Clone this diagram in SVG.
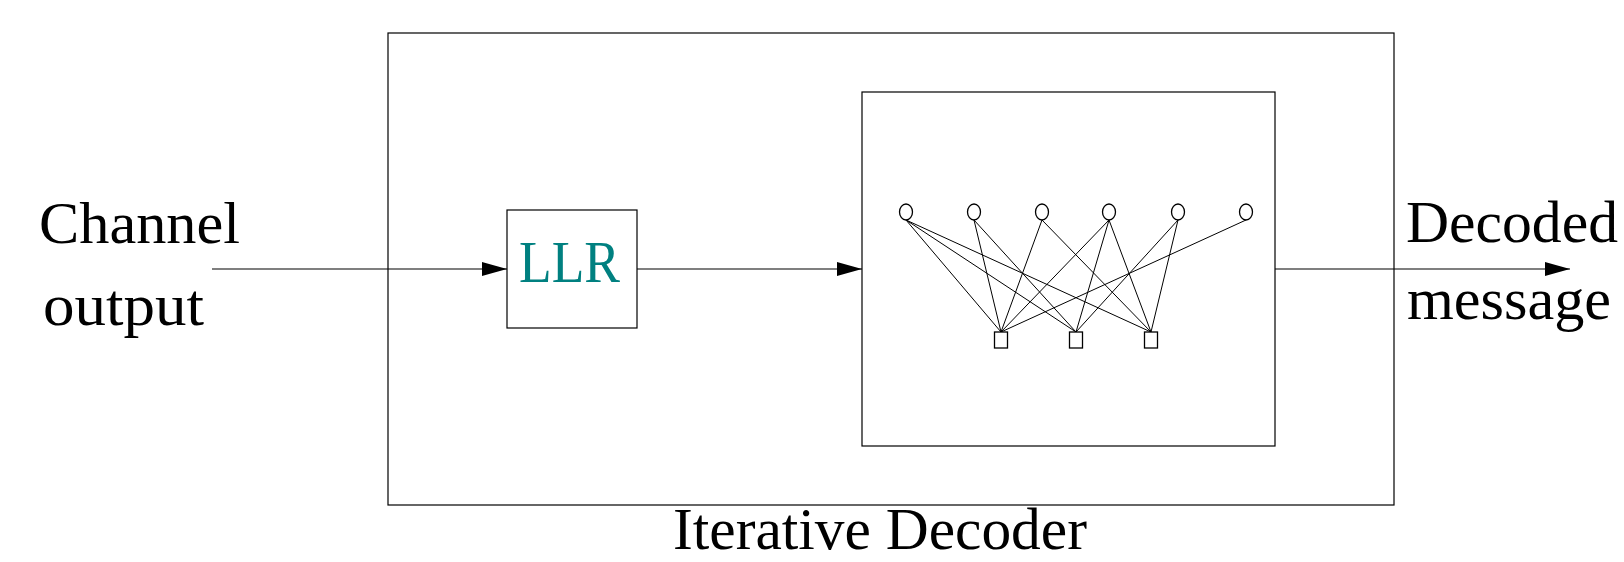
<svg xmlns="http://www.w3.org/2000/svg" width="1624" height="562" viewBox="0 0 1624 562">
  <style>
    .box { fill: none; stroke: #000; stroke-width: 1.2; }
    .conn { stroke: #000; stroke-width: 1.2; fill: none; }
    .edge { stroke: #000; stroke-width: 1; }
    .vnode { fill: #fff; stroke: #000; stroke-width: 1.3; }
    .cnode { fill: #fff; stroke: #000; stroke-width: 1.3; }
    .lbl { font-family: "Liberation Serif", "DejaVu Serif", serif; font-size: 60px; fill: #000; }
  </style>
  <defs>
    <marker id="arrow" markerUnits="userSpaceOnUse" markerWidth="25" markerHeight="14" refX="25" refY="7" orient="auto">
      <path d="M0,0 L25,7 L0,14 Z" fill="#000"/>
    </marker>
  </defs>
  <rect width="1624" height="562" fill="#fff"/>

  <g id="iterative-decoder">
    <rect class="box" x="388" y="33" width="1006" height="472"/>
    <text class="lbl" x="673" y="549" font-size="53" textLength="414" lengthAdjust="spacingAndGlyphs">Iterative Decoder</text>
  </g>

  <g id="llr">
    <rect class="box" x="507" y="210" width="130" height="118"/>
    <text class="lbl" x="519" y="282" font-size="58" fill="#008080" style="fill:#008080" textLength="101" lengthAdjust="spacingAndGlyphs">LLR</text>
  </g>

  <g id="tanner-graph">
    <rect class="box" x="862" y="92" width="413" height="354"/>
    <g id="tanner-edges">
      <line class="edge" x1="906" y1="220" x2="1001" y2="332"/>
      <line class="edge" x1="906" y1="220" x2="1076" y2="332"/>
      <line class="edge" x1="906" y1="220" x2="1151" y2="332"/>
      <line class="edge" x1="974" y1="220" x2="1001" y2="332"/>
      <line class="edge" x1="974" y1="220" x2="1076" y2="332"/>
      <line class="edge" x1="1042" y1="220" x2="1001" y2="332"/>
      <line class="edge" x1="1042" y1="220" x2="1151" y2="332"/>
      <line class="edge" x1="1109" y1="220" x2="1001" y2="332"/>
      <line class="edge" x1="1109" y1="220" x2="1076" y2="332"/>
      <line class="edge" x1="1109" y1="220" x2="1151" y2="332"/>
      <line class="edge" x1="1178" y1="220" x2="1076" y2="332"/>
      <line class="edge" x1="1178" y1="220" x2="1151" y2="332"/>
      <line class="edge" x1="1246" y1="220" x2="1001" y2="332"/>
    </g>
    <g id="variable-nodes">
      <ellipse class="vnode" cx="906" cy="212" rx="6.5" ry="8"/>
      <ellipse class="vnode" cx="974" cy="212" rx="6.5" ry="8"/>
      <ellipse class="vnode" cx="1042" cy="212" rx="6.5" ry="8"/>
      <ellipse class="vnode" cx="1109" cy="212" rx="6.5" ry="8"/>
      <ellipse class="vnode" cx="1178" cy="212" rx="6.5" ry="8"/>
      <ellipse class="vnode" cx="1246" cy="212" rx="6.5" ry="8"/>
    </g>
    <g id="check-nodes">
      <rect class="cnode" x="994.5" y="332" width="13" height="16"/>
      <rect class="cnode" x="1069.5" y="332" width="13" height="16"/>
      <rect class="cnode" x="1144.5" y="332" width="13" height="16"/>
    </g>
  </g>

  <g id="channel-output">
    <text class="lbl" x="39" y="243" textLength="201" lengthAdjust="spacingAndGlyphs">Channel</text>
    <text class="lbl" x="43" y="325" textLength="161" lengthAdjust="spacingAndGlyphs">output</text>
  </g>

  <g id="decoded-message">
    <text class="lbl" x="1406" y="242" textLength="212" lengthAdjust="spacingAndGlyphs">Decoded</text>
    <text class="lbl" x="1407" y="319" textLength="204" lengthAdjust="spacingAndGlyphs">message</text>
  </g>

  <g id="connectors">
    <line class="conn" x1="212" y1="269" x2="507" y2="269" marker-end="url(#arrow)"/>
    <line class="conn" x1="637" y1="269" x2="862" y2="269" marker-end="url(#arrow)"/>
    <line class="conn" x1="1275" y1="269" x2="1570" y2="269" marker-end="url(#arrow)"/>
  </g>
</svg>
